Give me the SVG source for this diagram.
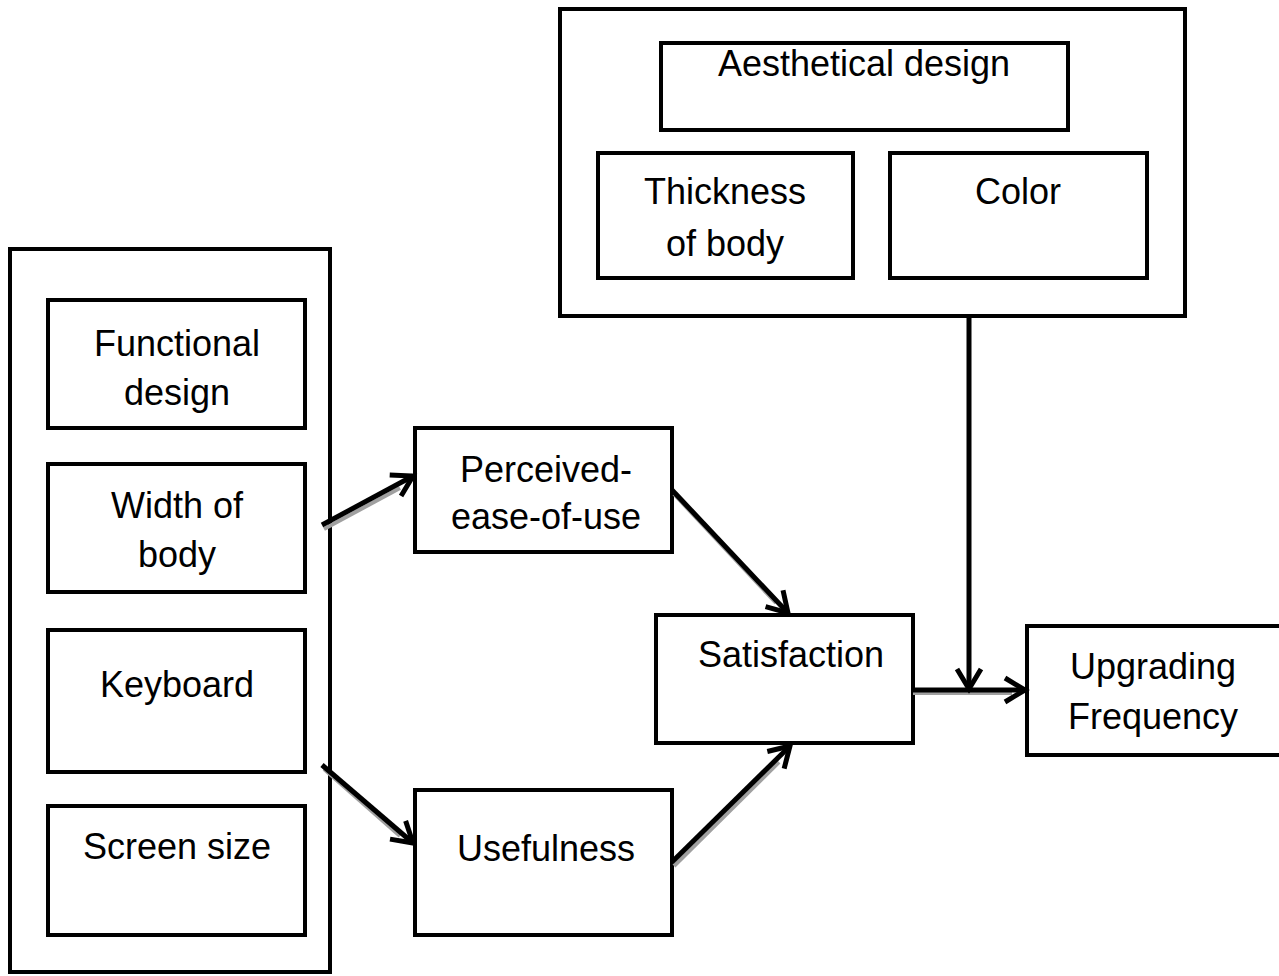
<svg xmlns="http://www.w3.org/2000/svg" width="1279" height="976" viewBox="0 0 1279 976">
<defs>
<style>
.box{fill:#fff;stroke:#000;stroke-width:4}
.t{font-family:"Liberation Sans",Arial,sans-serif;font-size:36px;fill:#000;text-anchor:middle}
.ln{stroke:#000;stroke-width:5;fill:none;stroke-linecap:butt}
.sh{stroke:#a0a0a0;stroke-width:4;fill:none}
</style>
<marker id="ah" viewBox="0 0 24 26" refX="22" refY="13" markerWidth="24" markerHeight="26" markerUnits="userSpaceOnUse" orient="auto" overflow="visible">
<path d="M2,1 L22,13 L2,25" fill="none" stroke="#000" stroke-width="5" stroke-linejoin="miter"/>
</marker>
</defs>
<rect width="1279" height="976" fill="#fff"/>
<g id="aesthetic-group">
<rect class="box" x="560" y="9" width="625" height="307"/>
</g>
<g id="aesthetical-design">
<rect class="box" x="661" y="43" width="407" height="87"/>
<text class="t" x="864" y="76">Aesthetical design</text>
</g>
<g id="thickness">
<rect class="box" x="598" y="153" width="255" height="125"/>
<text class="t" x="725" y="204">Thickness</text>
<text class="t" x="725" y="256">of body</text>
</g>
<g id="color">
<rect class="box" x="890" y="153" width="257" height="125"/>
<text class="t" x="1018" y="204">Color</text>
</g>
<g id="functional-group">
<rect class="box" x="10" y="249" width="320" height="723"/>
</g>
<g id="functional-design">
<rect class="box" x="48" y="300" width="257" height="128"/>
<text class="t" x="177" y="356">Functional</text>
<text class="t" x="177" y="405">design</text>
</g>
<g id="width-of-body">
<rect class="box" x="48" y="464" width="257" height="128"/>
<text class="t" x="177" y="518">Width of</text>
<text class="t" x="177" y="567">body</text>
</g>
<g id="keyboard">
<rect class="box" x="48" y="630" width="257" height="142"/>
<text class="t" x="177" y="697">Keyboard</text>
</g>
<g id="screen-size">
<rect class="box" x="48" y="806" width="257" height="129"/>
<text class="t" x="177" y="859">Screen size</text>
</g>
<g id="peou">
<rect class="box" x="415" y="428" width="257" height="124"/>
<text class="t" x="546" y="482">Perceived-</text>
<text class="t" x="546" y="529">ease-of-use</text>
</g>
<g id="usefulness">
<rect class="box" x="415" y="790" width="257" height="145"/>
<text class="t" x="546" y="861">Usefulness</text>
</g>
<g id="satisfaction">
<rect class="box" x="656" y="615" width="257" height="128"/>
<text class="t" x="791" y="667">Satisfaction</text>
</g>
<g id="upgrading">
<rect class="box" x="1027" y="626" width="256" height="129"/>
<text class="t" x="1153" y="679">Upgrading</text>
<text class="t" x="1153" y="729">Frequency</text>
</g>
<g id="connectors">
<line class="sh" x1="324" y1="529" x2="400" y2="488"/>
<line class="sh" x1="324" y1="769" x2="400" y2="836"/>
<line class="sh" x1="674" y1="494" x2="776" y2="603"/>
<line class="sh" x1="674" y1="866" x2="779" y2="762"/>
<line class="sh" x1="913" y1="693" x2="1012" y2="693"/>
<line class="ln" x1="322" y1="525" x2="413" y2="476" marker-end="url(#ah)"/>
<line class="ln" x1="322" y1="765" x2="413" y2="843" marker-end="url(#ah)"/>
<line class="ln" x1="672" y1="490" x2="788" y2="613" marker-end="url(#ah)"/>
<line class="ln" x1="672" y1="862" x2="790" y2="746" marker-end="url(#ah)"/>
<line class="ln" x1="913" y1="690" x2="1025" y2="690" marker-end="url(#ah)"/>
<line class="ln" x1="969" y1="316" x2="969" y2="689" marker-end="url(#ah)"/>
</g>
</svg>
